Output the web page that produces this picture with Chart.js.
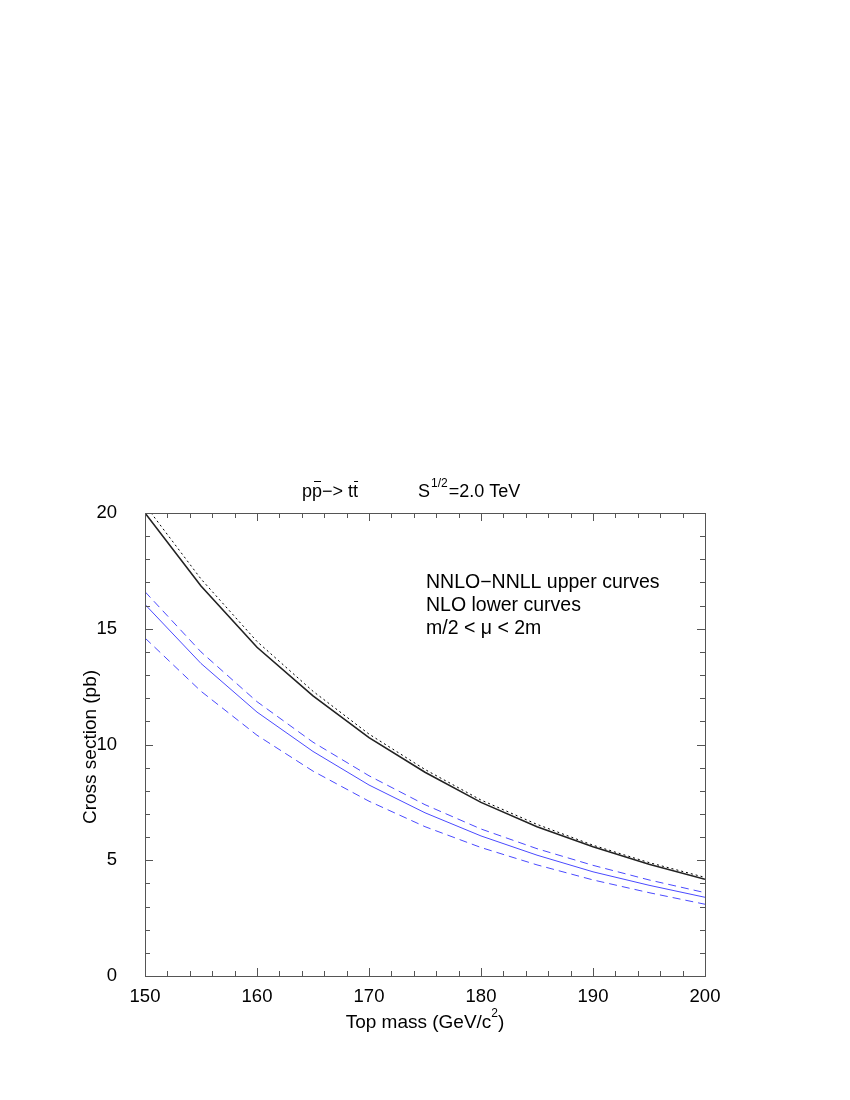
<!DOCTYPE html>
<html>
<head>
<meta charset="utf-8">
<script src="https://cdn.jsdelivr.net/npm/chart.js@4.4.0/dist/chart.umd.min.js"></script>
<style>
  html, body { margin: 0; padding: 0; background: #fff; }
  #wrap { width: 850px; height: 1100px; }
</style>
</head>
<body>
<div id="wrap"><canvas id="chart" width="850" height="1100"></canvas></div>
<script>
// top mass (GeV/c^2)
const masses = [150, 155, 160, 165, 170, 175, 180, 185, 190, 195, 200];
// NNLO-NNLL (upper curves)
const nnloCentral = [20.0, 16.85, 14.2, 12.1, 10.3, 8.8, 7.5, 6.45, 5.58, 4.83, 4.18];
const nnloUpper = [20.35, 17.15, 14.45, 12.3, 10.45, 8.92, 7.6, 6.55, 5.65, 4.9, 4.26];
// NLO (lower curves)
const nloUpper = [16.6, 14.0, 11.85, 10.1, 8.65, 7.4, 6.35, 5.5, 4.78, 4.15, 3.6];
const nloCentral = [16.05, 13.5, 11.4, 9.7, 8.25, 7.05, 6.05, 5.22, 4.5, 3.92, 3.4];
const nloLower = [14.6, 12.3, 10.4, 8.85, 7.55, 6.45, 5.55, 4.8, 4.15, 3.6, 3.1];

const xTicks = [150, 160, 170, 180, 190, 200];
const yTicks = [0, 5, 10, 15, 20];

const FONT = 'Liberation Sans, Arial, Helvetica, sans-serif';
const BLUE = '#4a4aff';

const pts = ys => masses.map((m, i) => ({ x: m, y: ys[i] }));

// frame, inward ticks, title and labels
const decorations = {
    id: 'decorations',
    afterDraw(chart) {
        const ctx = chart.ctx;
        const a = chart.chartArea;
        const xs = chart.scales.x;
        const ys = chart.scales.y;
        ctx.save();
        ctx.strokeStyle = '#555';
        ctx.lineWidth = 1;
        ctx.strokeRect(a.left + 0.5, a.top + 0.5, a.right - a.left, a.bottom - a.top);

        ctx.beginPath();
        for (let v = 150; v <= 200; v += 2) {
            const px = Math.round(xs.getPixelForValue(v)) + 0.5;
            const len = v % 10 === 0 ? 8 : 5;
            ctx.moveTo(px, a.bottom); ctx.lineTo(px, a.bottom - len);
            ctx.moveTo(px, a.top); ctx.lineTo(px, a.top + len);
        }
        for (let v = 0; v <= 20; v += 1) {
            const py = Math.round(ys.getPixelForValue(v)) + 0.5;
            const len = v % 5 === 0 ? 8 : 5;
            ctx.moveTo(a.left, py); ctx.lineTo(a.left + len, py);
            ctx.moveTo(a.right, py); ctx.lineTo(a.right - len, py);
        }
        ctx.stroke();

        ctx.fillStyle = '#000';
        ctx.textBaseline = 'alphabetic';

        // title: p pbar -> t tbar   S^1/2 = 2.0 TeV
        ctx.font = '18px ' + FONT;
        let x = 302;
        const ty = 497;
        const part = (s) => { ctx.fillText(s, x, ty); const w = ctx.measureText(s).width; x += w; return w; };
        const bar = (x0, w) => {
            ctx.beginPath();
            ctx.moveTo(x0 + 2, ty - 15.5); ctx.lineTo(x0 + w - 1, ty - 15.5);
            ctx.lineWidth = 1; ctx.strokeStyle = '#000'; ctx.stroke();
        };
        part('p');
        let x0 = x; let w = part('p'); bar(x0, w);
        part('\u2212> t');
        x0 = x; w = part('t'); bar(x0 - 1, w + 2);
        x = 418;
        part('S');
        ctx.font = '12px ' + FONT;
        ctx.fillText('1/2', x + 1, ty - 10);
        x += ctx.measureText('1/2').width + 2;
        ctx.font = '18px ' + FONT;
        part('=2.0 TeV');

        // annotation
        ctx.font = '19.5px ' + FONT;
        ctx.fillText('NNLO\u2212NNLL upper curves', 426, 588);
        ctx.fillText('NLO lower curves', 426, 611);
        ctx.fillText('m/2 < \u03bc < 2m', 426, 634);

        // x axis title
        ctx.font = '19px ' + FONT;
        const xt = 'Top mass (GeV/c';
        const xw = ctx.measureText(xt).width;
        ctx.font = '12px ' + FONT;
        const sw = ctx.measureText('2').width;
        ctx.font = '19px ' + FONT;
        const cw = ctx.measureText(')').width;
        const xx = (a.left + a.right) / 2 - (xw + sw + cw) / 2;
        ctx.fillText(xt, xx, 1028);
        ctx.fillText(')', xx + xw + sw, 1028);
        ctx.font = '12px ' + FONT;
        ctx.fillText('2', xx + xw, 1017);

        // y axis title
        ctx.font = '19px ' + FONT;
        ctx.translate(96, 747);
        ctx.rotate(-Math.PI / 2);
        ctx.textAlign = 'center';
        ctx.fillText('Cross section (pb)', 0, 0);
        ctx.restore();
    }
};

new Chart(document.getElementById('chart'), {
    type: 'line',
    data: {
        datasets: [
            { data: pts(nnloUpper), borderColor: '#000', borderWidth: 1, borderDash: [2, 3] },
            { data: pts(nnloCentral), borderColor: '#222', borderWidth: 1.6 },
            { data: pts(nloUpper), borderColor: BLUE, borderWidth: 1, borderDash: [8, 5] },
            { data: pts(nloCentral), borderColor: BLUE, borderWidth: 1 },
            { data: pts(nloLower), borderColor: BLUE, borderWidth: 1, borderDash: [8, 5] }
        ]
    },
    options: {
        responsive: false,
        animation: false,
        layout: { padding: { left: 0, top: 513, right: 145, bottom: 0 } },
        elements: { point: { radius: 0 }, line: { tension: 0, fill: false } },
        plugins: { legend: { display: false }, tooltip: { enabled: false } },
        scales: {
            x: {
                type: 'linear', min: 150, max: 200,
                grid: { display: false, drawTicks: false },
                border: { display: false },
                afterBuildTicks: s => { s.ticks = xTicks.map(v => ({ value: v })); },
                afterFit: s => { s.height = 124; },
                ticks: { color: '#000', padding: 10, maxRotation: 0, font: { family: FONT, size: 18.5 } }
            },
            y: {
                type: 'linear', min: 0, max: 20,
                grid: { display: false, drawTicks: false },
                border: { display: false },
                afterBuildTicks: s => { s.ticks = yTicks.map(v => ({ value: v })); },
                afterFit: s => { s.width = 145; },
                ticks: { color: '#000', padding: 28, font: { family: FONT, size: 18.5 } }
            }
        }
    },
    plugins: [decorations]
});
</script>
</body>
</html>
